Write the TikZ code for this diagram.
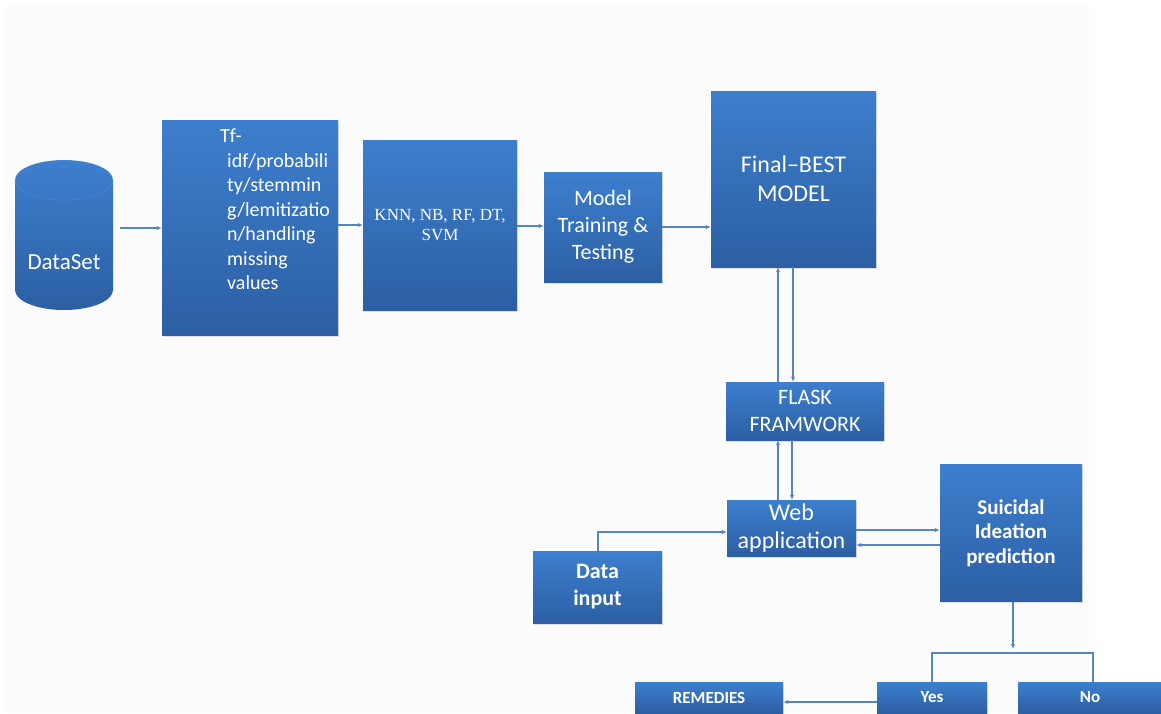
\documentclass[tikz,border=0pt]{standalone}
\usepackage{fontspec}
\setmainfont{Carlito}
\newfontfamily\tnr{Liberation Serif}
\usetikzlibrary{arrows.meta,shadows,calc}
\definecolor{btop}{RGB}{61,127,206}
\definecolor{bbot}{RGB}{44,95,163}
\definecolor{lc}{RGB}{85,133,192}
\definecolor{panel}{RGB}{251,251,251}
\tikzset{
  blk/.style={rectangle, top color=btop, bottom color=bbot, draw=none, text=white,
    align=center, inner sep=0pt,
    drop shadow={opacity=0.22, shadow xshift=1pt, shadow yshift=-1.5pt}},
  arr/.style={draw=lc, line width=1.3pt, -{Latex[length=5pt,width=4.5pt]}},
  ln/.style={draw=lc, line width=1.3pt},
  fa/.style={font=\fontsize{22}{27}\selectfont},
  fb/.style={font=\fontsize{21}{24.5}\selectfont\bfseries},
  fs/.style={font=\fontsize{17}{20}\selectfont\bfseries},
}
\begin{document}
\begin{tikzpicture}[x=1pt,y=-1pt]
\useasboundingbox (0,0) rectangle (1161,713);
\fill[white] (0,0) rectangle (1161,713);
\fill[panel] (3,7) rectangle (1089,713);

% cylinder
\shade[top color=btop, bottom color=bbot]
  (15,180) -- (15,290) arc[start angle=180, end angle=360, x radius=49pt, y radius=20pt]
  -- (113,180) arc[start angle=0, end angle=180, x radius=49pt, y radius=20pt] -- cycle;
\draw[white, opacity=0.08, line width=0.8pt] (64,180) ellipse[x radius=49pt, y radius=20pt];
\node[minimum width=98, minimum height=150, inner sep=0pt] (ds) at (64,235) {};
\node[text=white, font=\fontsize{23}{27}\selectfont] (dstext) at (64,262) {DataSet};

% boxes
\node[blk, minimum width=176, minimum height=215] (tf) at (250,227.5) {};
\node[text=white, align=left, anchor=north west, inner sep=0pt,
  font=\fontsize{20}{24.5}\selectfont] (tftext) at (227,129)
  {\hspace*{-7pt}Tf-\\idf/probabili\\ty/stemmin\\g/lemitizatio\\n/handling\\missing\\values};
\node[blk, minimum width=154, minimum height=170, font=\tnr\fontsize{17}{20}\selectfont] (knn) at (440,225) {KNN, NB, RF, DT,\\SVM};
\node[blk, fa, minimum width=118, minimum height=110] (mt) at (603,227) {Model\\Training \&\\Testing};
\node[blk, minimum width=165, minimum height=176, font=\fontsize{24}{29}\selectfont] (fbm) at (793.5,179) {Final--BEST\\MODEL};
\node[blk, fa, minimum width=158, minimum height=58] (fl) at (805,411) {FLASK\\FRAMWORK};
\node[blk, minimum width=129, minimum height=56, font=\fontsize{24}{28}\selectfont] (web) at (791.5,528) {Web\\application};
\node[blk, font=\fontsize{22}{27}\selectfont\bfseries, minimum width=129, minimum height=72] (di) at (597.5,587) {Data\\input};
\node[blk, fb, minimum width=142, minimum height=137] (sip) at (1011,533) {Suicidal\\Ideation\\prediction};
\node[blk, fs, minimum width=148, minimum height=31] (rem) at (709,697.5) {REMEDIES};
\node[blk, fs, minimum width=110, minimum height=31] (yes) at (932,697.5) {Yes};
\node[blk, fs, minimum width=144, minimum height=31] (no) at (1090,697.5) {No};

% connectors
\draw[arr] ([shift={(7pt,7pt)}]ds.east) -- ([yshift=7pt]ds.east -| tf.west);
\draw[arr] (tf.east |- knn.west) -- (knn.west);
\draw[arr] ([yshift=-1pt]knn.east) -- ([yshift=-1pt]knn.east -| mt.west);
\draw[arr] (mt.east) -- (mt.east -| fbm.west);
\draw[arr] (778,382) coordinate (a1) -- (a1 |- fbm.south);
\draw[arr] (793,267) coordinate (a2) -- (a2 |- fl.north);
\draw[arr] (778,500) coordinate (a3) -- (a3 |- fl.south);
\draw[arr] (792,440) coordinate (a4) -- (a4 |- web.north);
\coordinate (a5) at (598,532);
\draw[arr] (a5 |- di.north) -- (a5) -- (a5 -| web.west);
\draw[arr] (856,530) coordinate (a6) -- (a6 -| sip.west);
\draw[arr] (940,545) coordinate (a7) -- (a7 -| web.east);
\coordinate (split) at (1013,653);
\draw[arr] (split |- sip.south) -- ($(split)+(0,-4)$);
\draw[ln] (932,682) -- (932,653) -- (1093,653) -- (1093,682);
\draw[arr] (877,702) coordinate (a8) -- (a8 -| rem.east);
\end{tikzpicture}
\end{document}
